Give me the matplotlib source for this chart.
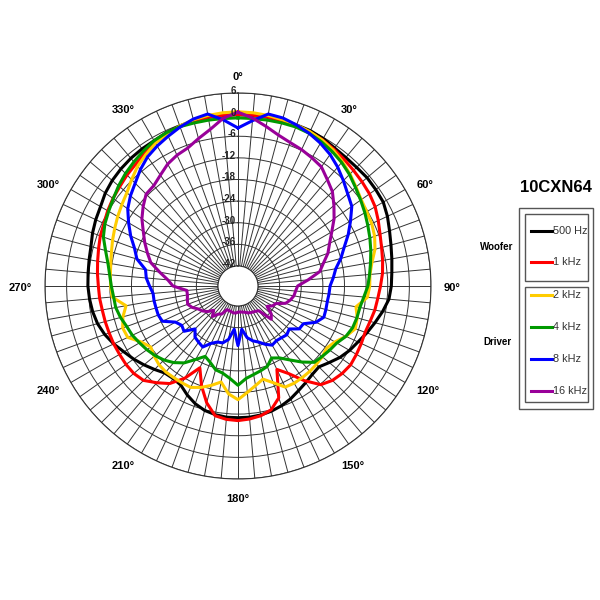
import numpy as np
import matplotlib
matplotlib.use("Agg")
import matplotlib.pyplot as plt
from matplotlib.patches import Rectangle

plt.rcParams['font.family'] = ['Liberation Sans', 'DejaVu Sans']

# 角度（度），每5度一个点
angles = np.arange(0, 360, 5)

# 各频率指向性 (dB)
black_500 = [0, 0, 0, 0, 0, 0, -0.3, -0.8, -1.0, -1.0, -0.8, -0.9,
             -1.0, -1.8, -2.8, -3.6, -4.2, -4.7, -5.0, -5.5, -6.8, -8.2, -9.5, -10.8,
             -11.8, -13.0, -14.5, -15.8, -15.5, -14.8, -14.0, -13.0, -12.2, -11.6, -11.2, -11.0,
             -11.0, -11.0, -11.3, -11.8, -12.8, -14.2, -15.8, -16.2, -16.0, -14.8, -13.5, -12.2,
             -11.0, -9.5, -8.2, -7.2, -6.6, -6.2, -5.9, -5.8, -5.6, -5.3, -4.6, -4.0,
             -3.5, -2.6, -2.0, -1.6, -1.3, -1.1, -1.0, -0.6, -0.3, 0, 0, 0]
red_1k = [0, 0, 0, 0, -0.2, -0.4, -0.7, -1.2, -1.7, -2.2, -2.6, -3.0,
          -3.6, -4.6, -5.6, -6.3, -6.8, -7.3, -8.0, -8.6, -9.0, -9.6, -10.0, -9.8,
          -9.6, -9.4, -9.8, -10.5, -11.8, -15.5, -19.5, -22.0, -14.5, -12.0, -11.0, -10.5,
          -10.2, -10.4, -11.0, -14.0, -18.0, -22.5, -18.0, -14.5, -12.5, -10.5, -9.8, -9.6,
          -9.6, -9.5, -9.5, -9.4, -9.3, -9.0, -8.8, -8.4, -8.0, -7.5, -6.9, -6.5,
          -5.8, -5.2, -4.7, -4.0, -3.4, -2.5, -1.6, -1.0, -0.5, -0.2, 0, 0]
yellow_2k = [0.8, 0.7, 0.5, 0.2, 0, -0.3, -0.8, -1.5, -2.5, -3.6, -4.8, -5.8,
             -6.3, -6.6, -7.2, -8.2, -9.8, -10.8, -11.0, -11.5, -14.3, -13.3, -12.9, -14.5,
             -16.5, -17.5, -17.0, -16.8, -16.6, -16.5, -16.4, -16.6, -19.0, -20.8, -19.5, -17.9,
             -16.0, -17.5, -20.5, -19.0, -17.6, -16.5, -16.5, -16.5, -16.4, -16.6, -17.2, -18.0,
             -16.5, -13.8, -13.5, -14.5, -16.0, -12.5, -12.2, -12.0, -11.7, -11.2, -10.5, -9.8,
             -9.0, -8.2, -7.3, -5.8, -4.2, -3.0, -1.8, -1.0, -0.3, 0.2, 0.5, 0.7]
green_4k = [-0.9, -0.9, -0.8, -0.7, -0.6, -0.8, -1.3, -2.0, -2.8, -3.8, -5.0, -6.0,
            -6.9, -7.8, -8.6, -9.4, -10.2, -10.9, -11.5, -12.5, -13.2, -13.4, -13.7, -14.5,
            -15.9, -16.5, -17.1, -17.6, -20.0, -22.5, -24.5, -25.5, -23.8, -23.2, -22.6, -21.8,
            -20.0, -21.8, -23.0, -23.5, -25.0, -26.0, -24.0, -21.5, -19.8, -18.5, -17.5, -16.7,
            -16.0, -15.2, -14.7, -13.8, -13.1, -12.9, -12.4, -11.8, -10.9, -9.5, -7.8, -6.8,
            -6.1, -5.3, -4.3, -3.4, -2.6, -1.8, -1.0, -0.6, -0.5, -0.7, -0.8, -0.9]
blue_8k = [-3.7, -1.5, 0.9, 0.7, 0, -0.8, -1.8, -3.0, -4.5, -6.2, -7.8, -9.0,
           -11.5, -13.8, -16.2, -18.0, -20.0, -21.0, -22.0, -22.2, -22.4, -22.3, -22.2, -23.7,
           -26.6, -26.8, -29.0, -28.4, -28.8, -29.0, -28.6, -29.7, -31.0, -31.8, -33.0, -35.5,
           -31.0, -35.5, -32.5, -31.2, -31.0, -30.0, -28.0, -28.5, -29.0, -30.7, -28.0, -28.5,
           -27.5, -24.4, -24.0, -24.0, -23.9, -23.9, -23.0, -22.0, -21.5, -18.5, -17.0, -14.7,
           -12.5, -10.2, -8.6, -7.2, -5.4, -3.8, -2.7, -1.7, -0.6, 0.4, 0.9, -1.3]
purple_16k = [0.7, -0.8, -2.6, -4.2, -5.2, -5.8, -6.5, -7.2, -9.0, -10.5, -12.8, -15.0,
              -17.5, -19.5, -21.0, -23.0, -24.5, -28.0, -31.0, -31.5, -31.8, -32.5, -33.5, -36.0,
              -36.5, -37.7, -35.5, -34.5, -38.6, -39.0, -39.2, -39.4, -39.6, -40.0, -40.2, -40.3,
              -40.3, -40.0, -40.0, -40.2, -40.3, -40.3, -38.6, -38.0, -36.5, -38.0, -36.5, -35.5,
              -34.8, -33.5, -32.7, -33.0, -33.3, -33.3, -29.5, -28.0, -25.5, -22.5, -20.8, -19.0,
              -17.2, -15.0, -13.2, -11.5, -11.2, -10.0, -8.5, -7.5, -6.8, -5.2, -3.4, -0.8]

series = [black_500, red_1k, yellow_2k, green_4k, blue_8k, purple_16k]
labels = ["500 Hz", "1 kHz", "2 kHz", "4 kHz", "8 kHz", "16 kHz"]
colors = ["#000000", "#ff0000", "#ffcc00", "#009900", "#0000ff", "#990099"]
groups = ["Woofer", "Driver"]

r_ticks = np.arange(-42, 7, 6)
theta_labels = np.arange(0, 360, 30)

fig = plt.figure(figsize=(6, 6), dpi=100)
ax = fig.add_axes([0.075, 0.2017, 0.6433, 0.6433], projection='polar')
ax.set_theta_zero_location('N')
ax.set_theta_direction(-1)
ax.set_ylim(-42, 6)
ax.set_rorigin(-47.55)

# 网格：5度辐射线，6dB同心圆
ax.set_xticks(np.deg2rad(angles))
ax.set_xticklabels([])
ax.tick_params(axis='x', length=0)
ax.set_yticks(r_ticks)
ax.set_yticklabels([])
ax.grid(True, color='#333333', linewidth=0.7)
for sp in ax.spines.values():
    sp.set_color('#333333')
    sp.set_linewidth(0.8)

# 角度标签
r_lab = 6 + 13 / 3.6
for a in theta_labels:
    s = np.sin(np.deg2rad(a))
    c = np.cos(np.deg2rad(a))
    ha = 'left' if s > 0.1 else ('right' if s < -0.1 else 'center')
    va = 'bottom' if c > 0.99 else ('top' if c < -0.99 else 'center')
    ax.annotate(f"{a}°", xy=(np.deg2rad(a), r_lab), xytext=(0, -1.5),
                textcoords='offset points', ha=ha, va=va, fontsize=8,
                fontweight='bold', annotation_clip=False)

# 径向标签
for r in r_ticks:
    ax.annotate(f"{r}", xy=(0, r), xytext=(-1.5, 1.5), textcoords='offset points',
                ha='right', va='center', fontsize=7, fontweight='bold',
                color='#222222', zorder=5)

th = np.deg2rad(np.append(angles, angles[0]))
for vals, col in zip(series, colors):
    ax.plot(th, np.append(vals, vals[0]), color=col, linewidth=2.2, zorder=4)

# 图例（像素坐标）
lg = fig.add_axes([0, 0, 1, 1])
lg.set_xlim(0, 600)
lg.set_ylim(600, 0)
lg.axis('off')
lg.text(556, 188, "10CXN64", ha='center', va='center', fontsize=12, fontweight='bold')
lg.add_patch(Rectangle((519, 208), 74, 201, fill=False, edgecolor='#555555', linewidth=1))
lg.add_patch(Rectangle((525, 214), 63, 67, fill=False, edgecolor='#555555', linewidth=1))
lg.add_patch(Rectangle((525, 287), 63, 115, fill=False, edgecolor='#555555', linewidth=1))
lg.text(497, 247, groups[0], ha='center', va='center', fontsize=7, fontweight='bold')
lg.text(497, 342, groups[1], ha='center', va='center', fontsize=7, fontweight='bold')
ys = [231, 262, 295, 327, 359, 391]
for y, lab, col in zip(ys, labels, colors):
    lg.plot([531, 552], [y, y], color=col, linewidth=2.2)
    lg.text(553, y, lab, ha='left', va='center', fontsize=7.8, color='#333333')

fig.savefig("out.png", dpi=100)
